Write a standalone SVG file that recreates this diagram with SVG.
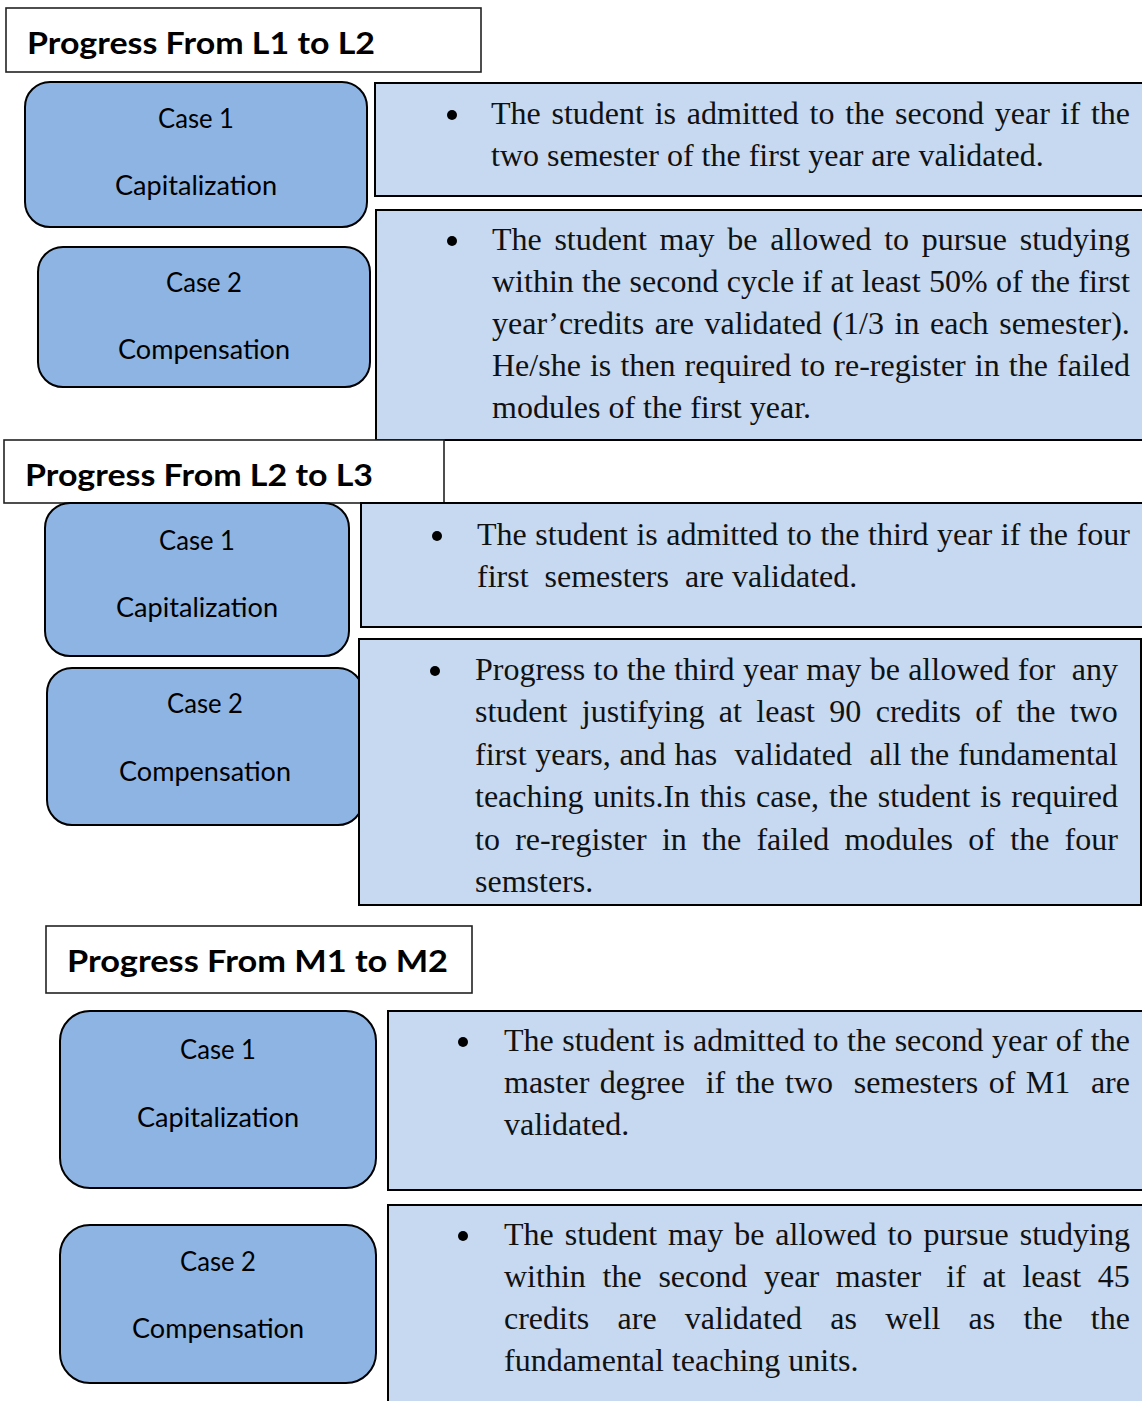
<svg xmlns="http://www.w3.org/2000/svg" width="1142" height="1401" viewBox="0 0 1142 1401">
<style>
.hdr{fill:#fff;stroke:#222;stroke-width:1.6}
.hdrt{font-family:Lato,"Liberation Sans",sans-serif;font-weight:bold;font-size:30px;fill:#000}
.case{fill:#8EB4E3;stroke:#000;stroke-width:2}
.caset{font-family:Lato,"Liberation Sans",sans-serif;font-size:26px;fill:#000;text-anchor:middle}
.tbox{fill:#C6D9F1;stroke:#000;stroke-width:2}
.body{font-family:"Liberation Serif","Times New Roman",serif;font-size:32px;fill:#111;white-space:pre}
.bul{fill:#000}
</style>
<rect width="1142" height="1401" fill="#fff"/>

<g id="header-l1-l2">
<rect class="hdr" x="6" y="8" width="475" height="64"/>
<text class="hdrt" x="27" y="54" textLength="348" lengthAdjust="spacingAndGlyphs">Progress From L1 to L2</text>
</g>
<g id="l1-case1">
<rect class="case" x="25" y="82" width="342" height="145" rx="25"/>
<text class="caset" x="196" y="128" textLength="76" lengthAdjust="spacingAndGlyphs">Case 1</text>
<text class="caset" x="196" y="195" textLength="162" lengthAdjust="spacingAndGlyphs">Capitalization</text>
</g>
<g id="l1-case1-text">
<rect class="tbox" x="375" y="83" width="780" height="113"/>
<circle class="bul" cx="452" cy="115" r="5"/>
<text class="body" xml:space="preserve"><tspan x="491" y="124" word-spacing="2.77">The student is admitted to the second year if the</tspan><tspan x="491" y="166">two semester of the first year are validated.</tspan></text>
</g>
<g id="l1-case2">
<rect class="case" x="38" y="247" width="332" height="140" rx="25"/>
<text class="caset" x="204" y="292" textLength="76" lengthAdjust="spacingAndGlyphs">Case 2</text>
<text class="caset" x="204" y="359" textLength="172" lengthAdjust="spacingAndGlyphs">Compensation</text>
</g>
<g id="l1-case2-text">
<rect class="tbox" x="376" y="210" width="780" height="230"/>
<circle class="bul" cx="452" cy="241" r="5"/>
<text class="body" xml:space="preserve"><tspan x="492" y="250" word-spacing="4.67">The student may be allowed to pursue studying</tspan><tspan x="492" y="292" word-spacing="0.34">within the second cycle if at least 50% of the first</tspan><tspan x="492" y="334" word-spacing="2.6">year’credits are validated (1/3 in each semester).</tspan><tspan x="492" y="376" word-spacing="1.1">He/she is then required to re-register in the failed</tspan><tspan x="492" y="418">modules of the first year.</tspan></text>
</g>

<g id="header-l2-l3">
<rect class="hdr" x="4" y="440" width="440" height="63"/>
<text class="hdrt" x="25" y="486" textLength="348" lengthAdjust="spacingAndGlyphs">Progress From L2 to L3</text>
</g>
<g id="l2-case1">
<rect class="case" x="45" y="503" width="304" height="153" rx="25"/>
<text class="caset" x="197" y="550" textLength="76" lengthAdjust="spacingAndGlyphs">Case 1</text>
<text class="caset" x="197" y="617" textLength="162" lengthAdjust="spacingAndGlyphs">Capitalization</text>
</g>
<g id="l2-case1-text">
<rect class="tbox" x="361" y="503" width="790" height="124"/>
<circle class="bul" cx="437" cy="536" r="5"/>
<text class="body" xml:space="preserve"><tspan x="477" y="545" word-spacing="0.6">The student is admitted to the third year if the four</tspan><tspan x="477" y="587">first  semesters  are validated.</tspan></text>
</g>
<g id="l2-case2">
<rect class="case" x="47" y="668" width="316" height="157" rx="25"/>
<text class="caset" x="205" y="713" textLength="76" lengthAdjust="spacingAndGlyphs">Case 2</text>
<text class="caset" x="205" y="781" textLength="172" lengthAdjust="spacingAndGlyphs">Compensation</text>
</g>
<g id="l2-case2-text">
<rect class="tbox" x="359" y="639" width="782" height="266"/>
<circle class="bul" cx="435" cy="671" r="5"/>
<text class="body" xml:space="preserve"><tspan x="475" y="680" word-spacing="0.31">Progress to the third year may be allowed for  any</tspan><tspan x="475" y="722" word-spacing="6.37">student justifying at least 90 credits of the two</tspan><tspan x="475" y="765" word-spacing="0.74">first years, and has  validated  all the fundamental</tspan><tspan x="475" y="807" word-spacing="1.84">teaching units.In this case, the student is required</tspan><tspan x="475" y="850" word-spacing="7.28">to re-register in the failed modules of the four</tspan><tspan x="475" y="892">semsters.</tspan></text>
</g>

<g id="header-m1-m2">
<rect class="hdr" x="46" y="926" width="426" height="67"/>
<text class="hdrt" x="67" y="972" textLength="381" lengthAdjust="spacingAndGlyphs">Progress From M1 to M2</text>
</g>
<g id="m1-case1">
<rect class="case" x="60" y="1011" width="316" height="177" rx="30"/>
<text class="caset" x="218" y="1059" textLength="76" lengthAdjust="spacingAndGlyphs">Case 1</text>
<text class="caset" x="218" y="1127" textLength="162" lengthAdjust="spacingAndGlyphs">Capitalization</text>
</g>
<g id="m1-case1-text">
<rect class="tbox" x="388" y="1011" width="770" height="179"/>
<circle class="bul" cx="463" cy="1042" r="5"/>
<text class="body" xml:space="preserve"><tspan x="504" y="1051" word-spacing="0.53">The student is admitted to the second year of the</tspan><tspan x="504" y="1093" word-spacing="2.38">master degree  if the two  semesters of M1  are</tspan><tspan x="504" y="1135">validated.</tspan></text>
</g>
<g id="m1-case2">
<rect class="case" x="60" y="1225" width="316" height="158" rx="30"/>
<text class="caset" x="218" y="1271" textLength="76" lengthAdjust="spacingAndGlyphs">Case 2</text>
<text class="caset" x="218" y="1338" textLength="172" lengthAdjust="spacingAndGlyphs">Compensation</text>
</g>
<g id="m1-case2-text">
<rect class="tbox" x="388" y="1205" width="770" height="210"/>
<circle class="bul" cx="463" cy="1236" r="5"/>
<text class="body" xml:space="preserve"><tspan x="504" y="1245" word-spacing="2.96">The student may be allowed to pursue studying</tspan><tspan x="504" y="1287" word-spacing="0.38">within  the  second  year  master   if  at  least  45</tspan><tspan x="504" y="1329" word-spacing="6.12">credits  are  validated  as  well  as  the  the</tspan><tspan x="504" y="1371">fundamental teaching units.</tspan></text>
</g>

<g id="connectors"/>
</svg>
